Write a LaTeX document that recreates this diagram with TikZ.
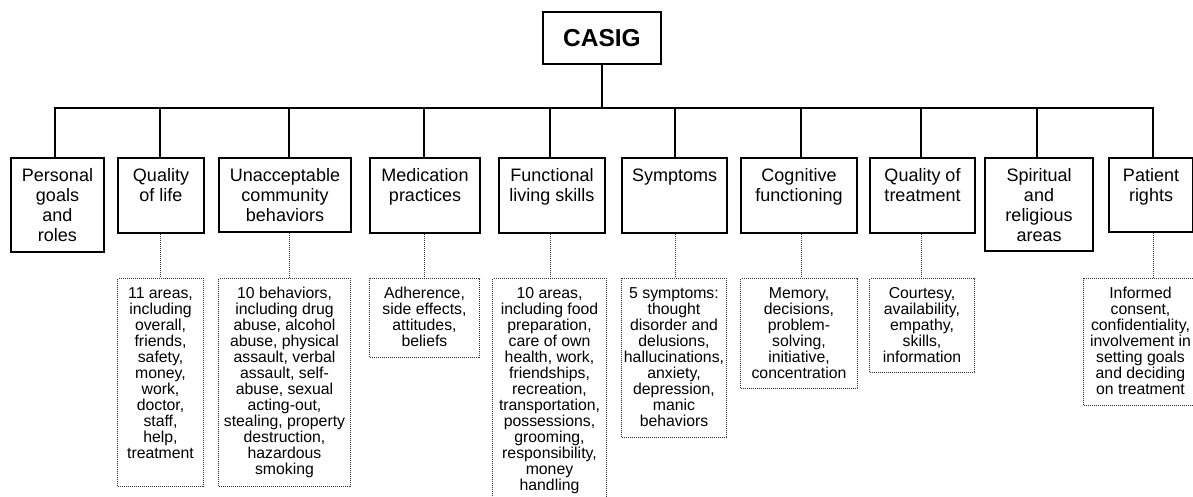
\documentclass[tikz,border=0pt]{standalone}
\usepackage{fontspec}
\setmainfont{Liberation Sans}

% Top-aligned, centred stack of lines in a box of fixed size:
% #1 width, #2 height, #3 drop of the first baseline, #4 lines
\newcommand\cellstack[4]{%
  \parbox[t][#2][t]{#1}{\centering
    \leftskip=-14pt plus 1fil\rightskip=-14pt plus 1fil
    \lineskiplimit=-100pt\rule{0pt}{#3}#4}}

\tikzset{
  casigbox/.style={draw, line width=2pt, inner sep=0pt, anchor=north west,
    font=\bfseries\fontsize{24.5}{27}\selectfont},
  topbox/.style={draw, line width=2pt, inner sep=0pt, anchor=north west,
    font=\fontsize{18}{20}\selectfont},
  detailbox/.style={draw=black!80, line width=1pt, dash pattern=on 1pt off 1pt,
    inner sep=0pt, anchor=north west, font=\fontsize{15.8}{16}\selectfont},
  conn/.style={line width=2pt},
  dotconn/.style={draw=black!80, line width=1pt, dash pattern=on 1pt off 1pt},
}

% name, left, top, width, height, lines
\newcommand\topnode[6]{\node[topbox] (#1) at (#2pt,-#3pt) {\cellstack{#4pt}{#5pt}{24pt}{#6}};}
\newcommand\detnode[6]{\node[detailbox] (#1) at (#2pt,-#3pt) {\cellstack{#4pt}{#5pt}{20pt}{#6}};}

\begin{document}
\begin{tikzpicture}
\useasboundingbox (0,0) rectangle (1193pt,-497pt);
\clip (0,0) rectangle (1193pt,-497pt);
\fill[white] (0,0) rectangle (1193pt,-497pt);

% root
\node[casigbox, minimum width=118pt, minimum height=52pt] (casig) at (542pt,-11pt) {CASIG};

% first level
\topnode{personal}{10}{157}{93}{94}{Personal\\goals\\and\\roles}
\topnode{qol}{117}{157}{86}{75}{Quality\\of life}
\topnode{unacc}{218}{157}{132}{74}{Unacceptable\\community\\behaviors}
\topnode{medic}{369}{157}{110}{75}{Medication\\practices}
\topnode{funct}{498}{157}{106}{75}{Functional\\living skills}
\topnode{sympt}{621}{157}{105}{75}{Symptoms}
\topnode{cogn}{740}{157}{116}{75}{Cognitive\\functioning}
\topnode{qot}{869}{157}{105}{75}{Quality of\\treatment}
\topnode{spirit}{984}{157}{108}{93}{Spiritual\\and\\religious\\areas}
\topnode{rights}{1108}{157}{84}{74}{Patient\\rights}

% details
\detnode{qolD}{117}{278}{86}{208}{11 areas,\\including\\overall,\\friends,\\safety,\\money,\\work,\\doctor,\\staff,\\help,\\treatment}
\detnode{unaccD}{218}{278}{132}{208}{10 behaviors,\\including drug\\abuse, alcohol\\abuse, physical\\assault, verbal\\assault, self-\\abuse, sexual\\acting-out,\\stealing, property\\destruction,\\hazardous\\smoking}
\detnode{medicD}{369}{278}{110}{79}{Adherence,\\side effects,\\attitudes,\\beliefs}
\detnode{functD}{492}{278}{114}{240}{10 areas,\\including food\\preparation,\\care of own\\health, work,\\friendships,\\recreation,\\transportation,\\possessions,\\grooming,\\responsibility,\\money\\handling}
\detnode{symptD}{621}{278}{105}{159}{5 symptoms:\\thought\\disorder and\\delusions,\\hallucinations,\\anxiety,\\depression,\\manic\\behaviors}
\detnode{cognD}{740}{278}{117}{110}{Memory,\\decisions,\\problem-\\solving,\\initiative,\\concentration}
\detnode{qotD}{869}{278}{105}{94}{Courtesy,\\availability,\\empathy,\\skills,\\information}
\detnode{rightsD}{1083}{278}{114}{127}{Informed\\consent,\\confidentiality,\\involvement in\\setting goals\\and deciding\\on treatment}

% branch points on the bus
\coordinate (b1) at (55pt,-108pt);
\coordinate (b2) at (160pt,-108pt);
\coordinate (b3) at (289pt,-108pt);
\coordinate (b4) at (424pt,-108pt);
\coordinate (b5) at (550pt,-108pt);
\coordinate (b6) at (675pt,-108pt);
\coordinate (b7) at (801pt,-108pt);
\coordinate (b8) at (921pt,-108pt);
\coordinate (b9) at (1037pt,-108pt);
\coordinate (b10) at (1153pt,-108pt);

% tree lines
\draw[conn] (casig.south) -- (casig.south |- b1);
\draw[conn] (b1 |- personal.north) -- (b1) -- (b10) -- (b10 |- rights.north);
\draw[conn] (b2) -- (b2 |- qol.north);
\draw[conn] (b3) -- (b3 |- unacc.north);
\draw[conn] (b4) -- (b4 |- medic.north);
\draw[conn] (b5) -- (b5 |- funct.north);
\draw[conn] (b6) -- (b6 |- sympt.north);
\draw[conn] (b7) -- (b7 |- cogn.north);
\draw[conn] (b8) -- (b8 |- qot.north);
\draw[conn] (b9) -- (b9 |- spirit.north);

% dotted links to the details
\draw[dotconn] (b2 |- qol.south) -- (b2 |- qolD.north);
\draw[dotconn] (b3 |- unacc.south) -- (b3 |- unaccD.north);
\draw[dotconn] (b4 |- medic.south) -- (b4 |- medicD.north);
\draw[dotconn] (b5 |- funct.south) -- (b5 |- functD.north);
\draw[dotconn] (b6 |- sympt.south) -- (b6 |- symptD.north);
\draw[dotconn] (b7 |- cogn.south) -- (b7 |- cognD.north);
\draw[dotconn] (b8 |- qot.south) -- (b8 |- qotD.north);
\draw[dotconn] (b10 |- rights.south) -- (b10 |- rightsD.north);
\end{tikzpicture}
\end{document}
